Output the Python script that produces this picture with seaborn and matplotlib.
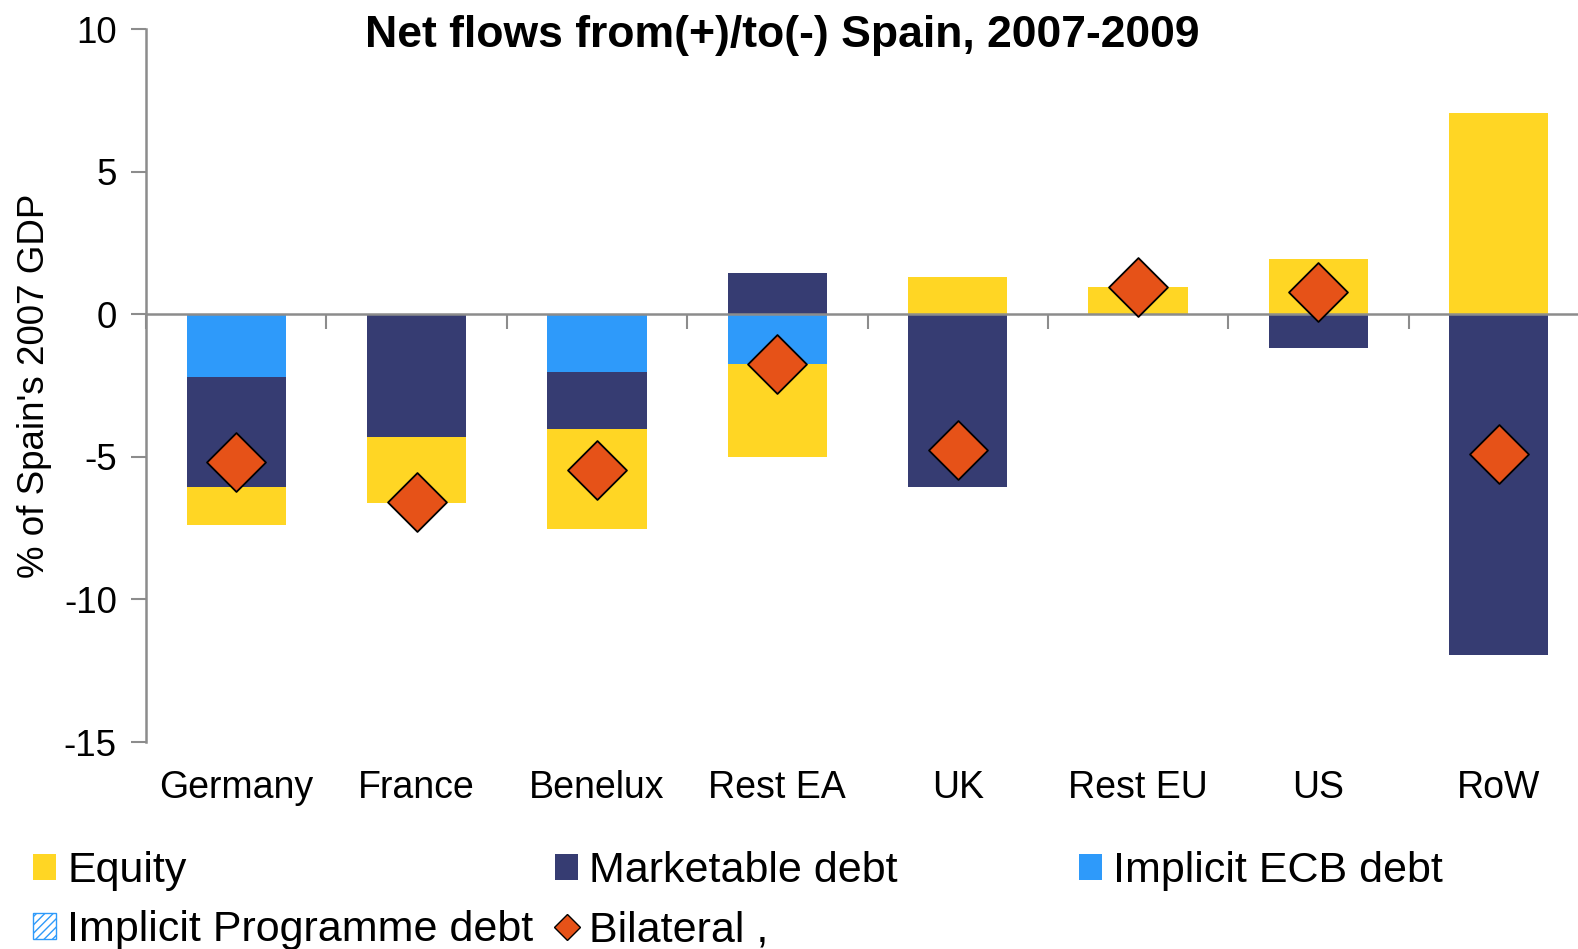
import numpy as np
import pandas as pd
import matplotlib
matplotlib.use("Agg")
import matplotlib.pyplot as plt
from matplotlib.patches import Patch
from matplotlib.lines import Line2D
import seaborn as sns

# ---- data (% of Spain's 2007 GDP) ----
countries = ["Germany", "France", "Benelux", "Rest EA", "UK", "Rest EU", "US", "RoW"]
equity = [-1.35, -2.30, -3.50, -3.25, 1.32, 0.95, 1.95, 7.05]
marketable_debt = [-3.85, -4.30, -2.00, 1.46, -6.05, 0.0, -1.19, -11.95]
ecb_debt = [-2.20, 0.0, -2.02, -1.75, 0.0, 0.0, 0.0, 0.0]
programme_debt = [0.0, 0.0, 0.0, 0.0, 0.0, 0.0, 0.0, 0.0]
bilateral = [-5.17, -6.57, -5.45, -1.75, -4.76, 0.96, 0.77, -4.90]
y_ticks = [-15, -10, -5, 0, 5, 10]

# ---- styling ----
C_EQUITY = "#FFD624"
C_MKT = "#363C72"
C_ECB = "#2E9AFA"
C_BILAT = "#E65218"
GREY = "#8C8C8C"

sns.set_theme(style="white")
plt.rcParams["font.family"] = ["Liberation Sans", "DejaVu Sans"]
plt.rcParams["axes.unicode_minus"] = False
plt.rcParams["text.color"] = "black"
plt.rcParams["axes.labelcolor"] = "black"

W, H = 1578, 949
fig = plt.figure(figsize=(W / 100, H / 100), dpi=100)
ax = fig.add_axes([146 / W, 1 - 742 / H, 1443 / W, (742 - 29.3) / H])

# stacked layers: negatives grow downward from zero, positives upward
layers = [
    ("Implicit ECB debt", ecb_debt, dict(color=C_ECB)),
    ("Implicit Programme debt", programme_debt,
     dict(color="white", edgecolor=C_ECB, hatch="////")),
    ("Marketable debt", marketable_debt, dict(color=C_MKT)),
    ("Equity", equity, dict(color=C_EQUITY)),
]
pos_base = np.zeros(len(countries))
neg_base = np.zeros(len(countries))
for name, vals, style in layers:
    v = np.asarray(vals, dtype=float)
    bottom = np.where(v >= 0, pos_base, neg_base)
    df = pd.DataFrame({"country": countries, "value": v})
    sns.barplot(data=df, x="country", y="value", order=countries, ax=ax,
                bottom=bottom, width=0.55, saturation=1, errorbar=None,
                linewidth=0, zorder=1, **style)
    pos_base = pos_base + np.where(v >= 0, v, 0)
    neg_base = neg_base + np.where(v < 0, v, 0)

ax.set_xlim(-0.5, len(countries) - 0.5)
ax.set_ylim(-15, 10)
ax.set_yticks(y_ticks)
ax.set_yticklabels([str(t) for t in y_ticks])

# zero line with category separators hanging below it
loc0 = (0 - (-15)) / (10 - (-15))
zero_ax = ax.secondary_xaxis(loc0)
zero_ax.set_xticks(np.arange(-0.5, len(countries), 1.0))
zero_ax.xaxis.set_ticks_position("bottom")
zero_ax.tick_params(axis="x", which="both", direction="out", length=11,
                    width=1.5, color=GREY, bottom=True, top=False,
                    labelbottom=False, labeltop=False)
for sp in zero_ax.spines.values():
    sp.set_color(GREY)
    sp.set_linewidth(1.8)
zero_ax.set_zorder(3)

# bilateral markers
bdf = pd.DataFrame({"country": countries, "value": bilateral})
sns.scatterplot(data=bdf, x="country", y="value", ax=ax, marker="D", s=900,
                color=C_BILAT, edgecolor="black", linewidth=1.3, zorder=5,
                legend=False)

ax.set_xlabel("")
ax.set_ylabel("% of Spain's 2007 GDP", fontsize=26.5, va="center",
              rotation_mode="anchor", ha="center", color="black")
ax.yaxis.set_label_coords((35 - 146) / 1443, 0.5)

for s in ["top", "right", "bottom"]:
    ax.spines[s].set_visible(False)
ax.spines["left"].set_color(GREY)
ax.spines["left"].set_linewidth(1.8)
ax.tick_params(axis="y", direction="out", length=11, width=1.5, color=GREY,
               pad=10, labelsize=26.5, left=True, labelcolor="black")
ax.tick_params(axis="x", length=0, pad=20, labelsize=27, labelcolor="black")
ax.set_xticks(range(len(countries)))
ax.set_xticklabels(countries)

fig.text(782 / W, 1 - 47 / H, "Net flows from(+)/to(-) Spain, 2007-2009",
         ha="center", va="baseline", fontsize=32, fontweight="bold",
         color="black")

# legend in three columns
leg_kw = dict(loc="upper left", frameon=False, fontsize=31, handlelength=0.54,
              handleheight=0.54, handletextpad=0.26, labelspacing=0.45,
              borderpad=0, borderaxespad=0, labelcolor="black")
col1 = [Patch(facecolor=C_EQUITY, edgecolor="none"),
        Patch(facecolor="white", edgecolor=C_ECB, hatch="////")]
col2 = [Patch(facecolor=C_MKT, edgecolor="none"),
        Line2D([], [], linestyle="none", marker="D", markersize=13,
               markerfacecolor=C_BILAT, markeredgecolor="black",
               markeredgewidth=1.0)]
col3 = [Patch(facecolor=C_ECB, edgecolor="none")]
top = 1 - 851 / H
fig.legend(col1, ["Equity", "Implicit Programme debt"],
           bbox_to_anchor=(33 / W, top), **leg_kw)
fig.legend(col2, ["Marketable debt", "Bilateral ,"],
           bbox_to_anchor=(555 / W, top), **leg_kw)
fig.legend(col3, ["Implicit ECB debt"],
           bbox_to_anchor=(1079 / W, top), **leg_kw)

fig.savefig("out.png", dpi=100)
